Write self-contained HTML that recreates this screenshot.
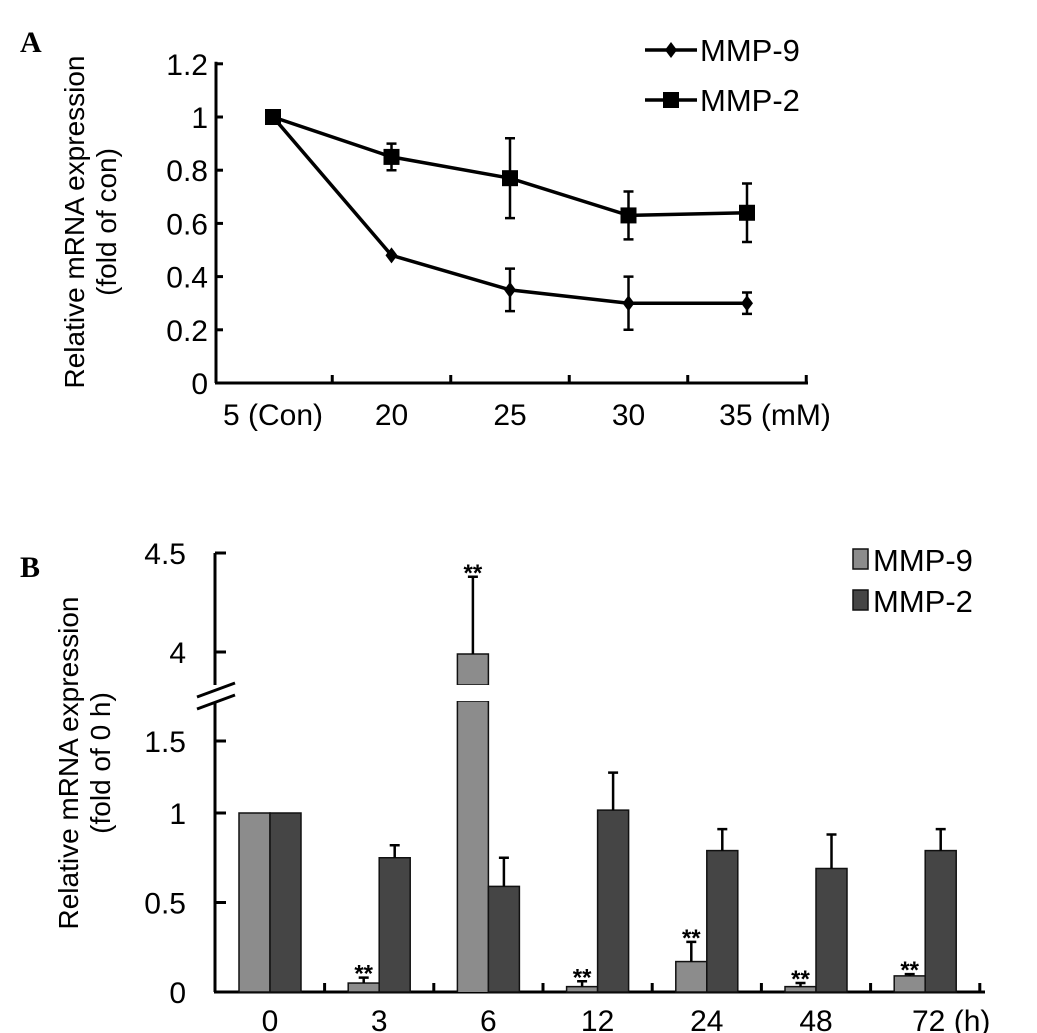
<!DOCTYPE html>
<html><head><meta charset="utf-8"><style>
body{margin:0;background:#fff;}
svg{display:block;font-family:"Liberation Sans",Arial,sans-serif;}
</style></head><body>
<svg id="fig" width="1037" height="1033" viewBox="0 0 1037 1033">
<g id="pa"></g>
<g id="pb"></g>
</svg>
<script>
// Panel A data
const catsA = ["5 (Con)", "20", "25", "30", "35 (mM)"];
const mmp9A = [1, 0.48, 0.35, 0.30, 0.30];
const mmp9AErr = [0, 0, 0.08, 0.10, 0.04];
const mmp2A = [1, 0.85, 0.77, 0.63, 0.64];
const mmp2AErr = [0, 0.05, 0.15, 0.09, 0.11];
const ticksA = [0, 0.2, 0.4, 0.6, 0.8, 1, 1.2];
const tickLabelsA = ["0", "0.2", "0.4", "0.6", "0.8", "1", "1.2"];
// Panel B data
const catsB = ["0", "3", "6", "12", "24", "48", "72 (h)"];
const mmp9B = [1, 0.05, 3.99, 0.03, 0.17, 0.03, 0.09];
const mmp9BErr = [0, 0.03, 0.39, 0.03, 0.11, 0.02, 0.01];
const mmp2B = [1, 0.75, 0.59, 1.02, 0.79, 0.69, 0.79];
const mmp2BErr = [0, 0.07, 0.16, 0.26, 0.12, 0.19, 0.12];
const sigB = [false, true, true, true, true, true, true];
const ticksB = [0, 0.5, 1, 1.5, 4, 4.5];
const tickLabelsB = ["0", "0.5", "1", "1.5", "4", "4.5"];

const NS = "http://www.w3.org/2000/svg";
function mk(parent, tag, attrs, text) {
  const el = document.createElementNS(NS, tag);
  for (const k in attrs) el.setAttribute(k, attrs[k]);
  if (text !== undefined) el.textContent = text;
  parent.appendChild(el);
  return el;
}
const TF = 30; // tick font
const LF = 31; // legend font

// ---------- Panel A ----------
const pa = document.getElementById("pa");
const ax0 = 216, ax1 = 808;
const yA = v => 383 - v * 266;
const xA = i => 273 + i * 118.5;
let t;
t = mk(pa, "text", {x: 20, y: 52, "font-family": "Liberation Serif,serif", "font-weight": "bold", "font-size": 30}, "A");
 
t = mk(pa, "text", {transform: "translate(84,222) rotate(-90)", "text-anchor": "middle", "font-size": 28}, "Relative mRNA expression");
 
t = mk(pa, "text", {transform: "translate(116,222) rotate(-90)", "text-anchor": "middle", "font-size": 28}, "(fold of con)");
 
let ln = mk(pa, "line", {x1: ax0, y1: yA(1.2) - 2, x2: ax0, y2: yA(0), stroke: "#000", "stroke-width": 3});
 
ln = mk(pa, "line", {x1: ax0 - 1, y1: yA(0), x2: ax1, y2: yA(0), stroke: "#000", "stroke-width": 3});
 
ticksA.forEach((v, i) => {
  const tk = mk(pa, "line", {x1: ax0, y1: yA(v), x2: ax0 + 7, y2: yA(v), stroke: "#000", "stroke-width": 3});
   
  const tl = mk(pa, "text", {x: 208, y: yA(v) + 11, "text-anchor": "end", "font-size": TF}, tickLabelsA[i]);
   
});
catsA.forEach((c, i) => {
  const bx = (xA(i) + (i < catsA.length - 1 ? xA(i + 1) : xA(i) + 118.5)) / 2;
  const tk = mk(pa, "line", {x1: bx, y1: yA(0), x2: bx, y2: yA(0) - 8, stroke: "#000", "stroke-width": 3});
   
  const off = i === 4 ? 28 : 0;
  const tl = mk(pa, "text", {x: xA(i) + off, y: 425, "text-anchor": "middle", "font-size": TF}, c);
   
});
function seriesA(vals, errs, name, marker) {
  const g = mk(pa, "g", {});
   
  const pts = vals.map((v, i) => xA(i) + "," + yA(v)).join(" ");
  const pl = mk(g, "polyline", {points: pts, fill: "none", stroke: "#000", "stroke-width": 3.5});
   
  vals.forEach((v, i) => {
    if (errs[i] > 0) {
      const e = mk(g, "path", {d: `M${xA(i)},${yA(v + errs[i])}V${yA(v - errs[i])}M${xA(i) - 5},${yA(v + errs[i])}h10M${xA(i) - 5},${yA(v - errs[i])}h10`, stroke: "#000", "stroke-width": 2.5, fill: "none"});
       
    }
    let m;
    if (marker === "sq") m = mk(g, "rect", {x: xA(i) - 8, y: yA(v) - 8, width: 16, height: 16, fill: "#000"});
    else m = mk(g, "path", {d: `M${xA(i)},${yA(v) - 8}l6,8l-6,8l-6,-8z`, fill: "#000"});
     
  });
}
seriesA(mmp9A, mmp9AErr, "mmp9-a", "dia");
seriesA(mmp2A, mmp2AErr, "mmp2-a", "sq");
// legend A
let lg = mk(pa, "g", {});  
let le = mk(lg, "g", {});  
mk(le, "line", {x1: 645, y1: 50, x2: 697, y2: 50, stroke: "#000", "stroke-width": 3.5});
mk(le, "path", {d: "M671,42l6,8l-6,8l-6,-8z", fill: "#000"});
mk(le, "text", {x: 700, y: 61, "font-size": LF}, "MMP-9");
le = mk(lg, "g", {});  
mk(le, "line", {x1: 645, y1: 100, x2: 697, y2: 100, stroke: "#000", "stroke-width": 3.5});
mk(le, "rect", {x: 663, y: 92, width: 16, height: 16, fill: "#000"});
mk(le, "text", {x: 700, y: 111, "font-size": LF}, "MMP-2");

// ---------- Panel B ----------
const pb = document.getElementById("pb");
const bx0 = 215, bx1 = 985, base = 992;
function yB(v) {
  if (v <= 1) return base - v * 179;
  if (v <= 1.6) return 813 - (v - 1) * 144;
  return 652 - (v - 4) * 198;
}
const xB = i => 270 + i * 109.2;
const bw = 31;
t = mk(pb, "text", {x: 20, y: 577, "font-family": "Liberation Serif,serif", "font-weight": "bold", "font-size": 30}, "B");
 
t = mk(pb, "text", {transform: "translate(78,763) rotate(-90)", "text-anchor": "middle", "font-size": 28}, "Relative mRNA expression");
 
t = mk(pb, "text", {transform: "translate(110,763) rotate(-90)", "text-anchor": "middle", "font-size": 28}, "(fold of 0 h)");
 
ln = mk(pb, "path", {d: `M${bx0},${yB(4.5)}V685M${bx0},703V${base}`, stroke: "#000", "stroke-width": 3, fill: "none"});
 
ln = mk(pb, "path", {d: `M197,697l38,-14M197,709l38,-14`, stroke: "#000", "stroke-width": 3, fill: "none"});
 
ln = mk(pb, "line", {x1: bx0 - 1, y1: base, x2: bx1, y2: base, stroke: "#000", "stroke-width": 3});
 
ticksB.forEach((v, i) => {
  const tk = mk(pb, "line", {x1: bx0, y1: yB(v), x2: bx0 + 11, y2: yB(v), stroke: "#000", "stroke-width": 3});
   
  const tl = mk(pb, "text", {x: 186, y: yB(v) + 11, "text-anchor": "end", "font-size": TF}, tickLabelsB[i]);
   
});
catsB.forEach((c, i) => {
  if (i > 0) {
    const tx = xB(i) - 54.6;
    const tk = mk(pb, "line", {x1: tx, y1: base, x2: tx, y2: base - 9, stroke: "#000", "stroke-width": 3});
     
  }
  const off = i === 6 ? 26 : 0;
  const tl = mk(pb, "text", {x: xB(i) + off, y: 1031, "text-anchor": "middle", "font-size": TF}, c);
   
});
let tx = xB(6) + 54.6;
let tk2 = mk(pb, "line", {x1: tx, y1: base, x2: tx, y2: base - 9, stroke: "#000", "stroke-width": 3});
 

function errB(x, v, e, name) {
  const top = yB(v + e);
  const p = mk(pb, "path", {d: `M${x},${yB(v)}V${top}M${x - 5},${top}h10`, stroke: "#000", "stroke-width": 2.5, fill: "none"});
   
}
catsB.forEach((c, i) => {
  const x9 = xB(i) - bw, x2 = xB(i);
  const v9 = mmp9B[i];
  let r;
  if (v9 > 1.6) {
    r = mk(pb, "path", {d: `M${x9},${base}V701H${x9 + bw}V${base}M${x9},685V${yB(v9)}H${x9 + bw}V685Z`, fill: "#8c8c8c", stroke: "#111", "stroke-width": 1.5});
    const gap = mk(pb, "rect", {x: x9 - 1, y: 685, width: bw + 2, height: 16, fill: "#fff"});
     
  } else {
    r = mk(pb, "rect", {x: x9, y: yB(v9), width: bw, height: base - yB(v9), fill: "#8c8c8c", stroke: "#111", "stroke-width": 1.5});
  }
   
  if (mmp9BErr[i] > 0) errB(x9 + bw / 2, v9, mmp9BErr[i], 'error-bar-mmp9');
  const r2 = mk(pb, "rect", {x: x2, y: yB(mmp2B[i]), width: bw, height: base - yB(mmp2B[i]), fill: "#454545", stroke: "#111", "stroke-width": 1.5});
   
  if (mmp2BErr[i] > 0) errB(x2 + bw / 2, mmp2B[i], mmp2BErr[i], 'error-bar-mmp2');
  if (sigB[i]) {
    const s = mk(pb, "text", {x: x9 + bw / 2, y: yB(v9 + mmp9BErr[i]) + 4, "text-anchor": "middle", "font-size": 24, "font-weight": "bold"}, "**");
     
  }
});
// legend B
lg = mk(pb, "g", {});  
le = mk(lg, "g", {});  
mk(le, "rect", {x: 853, y: 549, width: 15, height: 20, fill: "#8c8c8c", stroke: "#111", "stroke-width": 1.5});
mk(le, "text", {x: 873, y: 571, "font-size": LF}, "MMP-9");
le = mk(lg, "g", {});  
mk(le, "rect", {x: 853, y: 590, width: 15, height: 20, fill: "#454545", stroke: "#111", "stroke-width": 1.5});
mk(le, "text", {x: 873, y: 612, "font-size": LF}, "MMP-2");
</script>
</body></html>
